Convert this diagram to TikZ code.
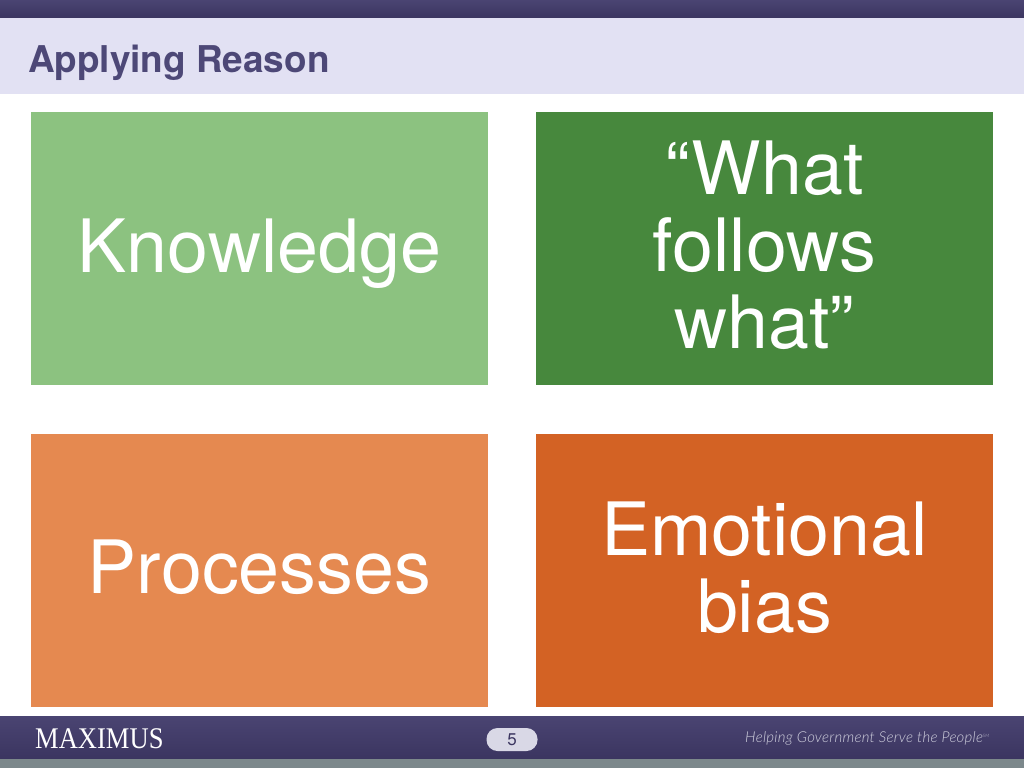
\documentclass[tikz,border=0pt]{standalone}
\usepackage{fontspec}
\setmainfont{TeX Gyre Heros}
\newfontfamily\logofont{Liberation Serif}
\newfontfamily\tagfont[LetterSpace=1.7,ItalicFont={Lato Light Italic}]{Lato Light}
\definecolor{bandtop}{HTML}{4A4472}
\definecolor{bandbot}{HTML}{3B3560}
\definecolor{titlebg}{HTML}{E2E1F3}
\definecolor{titlefg}{HTML}{4D4877}
\definecolor{greyband}{HTML}{7C888B}
\definecolor{lgreen}{HTML}{8CC280}
\definecolor{dgreen}{HTML}{47883D}
\definecolor{lorange}{HTML}{E58950}
\definecolor{dorange}{HTML}{D36224}
\definecolor{pill}{HTML}{D9D8E6}
\definecolor{tagfg}{HTML}{CFCFDD}
\tikzset{
  tile/.style={draw=none,minimum width=457pt,minimum height=273pt,inner sep=0pt},
  bigtext/.style={anchor=base,inner sep=0pt,text=white,align=center,font=\fontsize{73.6}{77}\selectfont},
}
\begin{document}
\begin{tikzpicture}[x=1pt,y=-1pt]
\useasboundingbox (0,0) rectangle (1024,768);
\fill[white] (0,0) rectangle (1024,768);
\shade[top color=bandtop,bottom color=bandbot] (0,0) rectangle (1024,18);
\fill[titlebg] (0,18) rectangle (1024,94);
\node[anchor=base west,inner sep=0pt,text=titlefg,font=\fontsize{36.9}{40}\selectfont\bfseries] (title) at (28,72) {Applying Reason};
\node[tile,fill=lgreen] (k) at (259.5,248.5) {};
\node[tile,fill=dgreen] (w) at (764.5,248.5) {};
\node[tile,fill=lorange] (p) at (259.5,570.5) {};
\node[tile,fill=dorange] (e) at (764.5,570.5) {};
\node[bigtext] (kt) at (259.5,272) {Knowledge};
\node[bigtext] (wt) at (764.5,348) {“What\\follows\\what”};
\node[bigtext] (pt) at (259.5,593) {Processes};
\node[bigtext] (et) at (764.5,632) {Emotional\\bias};
\shade[top color=bandtop,bottom color=bandbot] (0,716) rectangle (1024,759);
\fill[greyband] (0,759) rectangle (1024,768);
\node[anchor=base west,inner sep=0pt,text=white,font=\logofont\fontsize{30}{30}\selectfont] (logo) at (35,748) {\scalebox{.885}[1]{MAXIMUS}};
\node[draw=none,fill=pill,rounded corners=11pt,minimum width=51pt,minimum height=23pt,inner sep=0pt] (pg) at (512,739.5) {};
\node[inner sep=0pt,text=bandbot,font=\fontsize{17}{18}\selectfont] (num) at (512,739.5) {5};
\node[anchor=base west,inner sep=0pt,text=tagfg,font=\tagfont\itshape\fontsize{15}{16}\selectfont] (tag) at (745,742) {Helping Government Serve the People\raisebox{5pt}{\fontsize{4.5}{5}\selectfont SM}};
\end{tikzpicture}
\end{document}
